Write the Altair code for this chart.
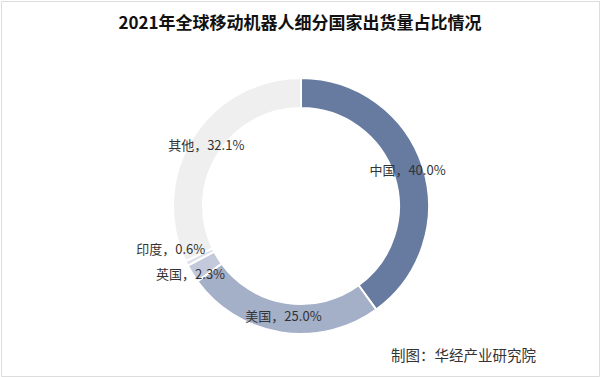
import altair as alt
import pandas as pd

countries = ["中国", "美国", "英国", "印度", "其他"]
shares = [40.0, 25.0, 2.3, 0.6, 32.1]
colors = ["#677a9f", "#a4afc8", "#c3c9da", "#dde0e9", "#efefef"]
title_text = "2021年全球移动机器人细分国家出货量占比情况"
source_text = "制图：华经产业研究院"

df = pd.DataFrame({
    "country": countries,
    "share": shares,
    "order": list(range(len(countries))),
    "label": [f"{c}，{v:.1f}%" for c, v in zip(countries, shares)],
})

W, H = 598, 375
CX, CY = 300, 205

arcs = alt.Chart(df).mark_arc(outerRadius=128, innerRadius=98, stroke="white", strokeWidth=2).encode(
    theta=alt.Theta("share:Q", stack=True),
    order=alt.Order("order:Q"),
    x=alt.value(CX), y=alt.value(CY),
    color=alt.Color("country:N", scale=alt.Scale(domain=countries, range=colors), legend=None),
)

lab = alt.Chart(df).transform_window(
    cum="sum(share)", sort=[alt.SortField("order")]
).transform_calculate(mid="datum.cum - datum.share / 2")

theta_enc = alt.Theta("mid:Q", scale=alt.Scale(domain=[0, sum(shares)]))

txt = dict(font="Noto Sans CJK SC", fontSize=13, color="#333333")
big = lab.mark_text(radius=112, **txt).encode(
    theta=theta_enc, x=alt.value(CX), y=alt.value(CY), text="label:N"
).transform_filter(alt.FieldOneOfPredicate(field="country", oneOf=["中国", "美国", "其他"]))

uk = lab.mark_text(radius=130, **txt).encode(
    theta=theta_enc, x=alt.value(CX), y=alt.value(CY), text="label:N"
).transform_filter(alt.FieldEqualPredicate(field="country", equal="英国"))

india = lab.mark_text(radius=130, dx=-14, dy=-14, **txt).encode(
    theta=theta_enc, x=alt.value(CX), y=alt.value(CY), text="label:N"
).transform_filter(alt.FieldEqualPredicate(field="country", equal="印度"))

title = alt.Chart(pd.DataFrame({"t": [title_text]})).mark_text(
    font="Noto Sans CJK SC", fontSize=17, fontWeight="bold", color="#111111"
).encode(x=alt.value(W / 2), y=alt.value(23), text="t:N")

source = alt.Chart(pd.DataFrame({"t": [source_text]})).mark_text(
    font="Noto Sans CJK SC", fontSize=14.5, color="#333333", align="left"
).encode(x=alt.value(390), y=alt.value(356), text="t:N")

chart = alt.layer(arcs, big, uk, india, title, source).properties(
    width=W, height=H,
    autosize=alt.AutoSizeParams(type="none"),
    padding={"left": 1, "top": 1, "right": 1, "bottom": 1},
).configure_view(stroke="#a6a6a6", strokeWidth=1).configure(background="white")

chart.save("out.html", embed_options={"renderer": "svg", "actions": False})
